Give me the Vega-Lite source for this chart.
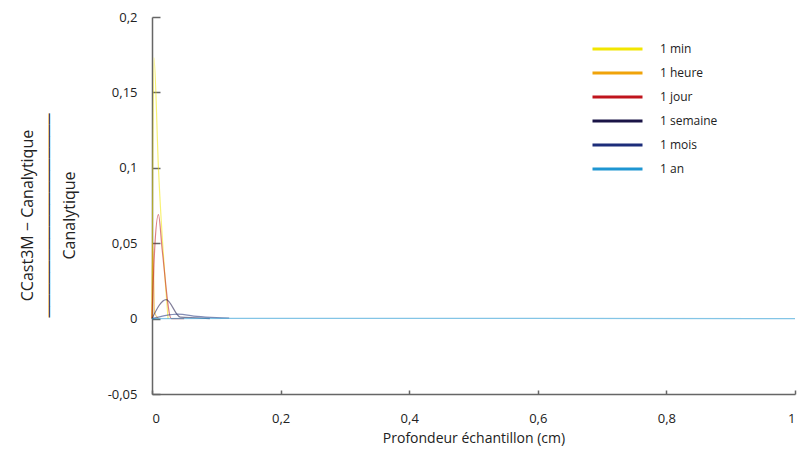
{
  "$schema": "https://vega.github.io/schema/vega-lite/v6.json",
  "width": 643,
  "height": 377,
  "autosize": {"type": "none"},
  "padding": {"left": 152, "top": 17, "right": 7, "bottom": 61},
  "background": "white",
  "config": {
    "view": {"stroke": null},
    "font": "Open Sans",
    "axis": {"grid": false, "domainColor": "#666", "domainWidth": 1.5, "tickColor": "#666", "tickWidth": 1.5, "labelFont": "Open Sans", "labelFontSize": 12, "labelColor": "#222", "titleFont": "Open Sans", "titleFontWeight": "normal", "titleColor": "#222"}
  },
  "data": {"values": [
    {"serie": "1 min", "x": 0, "y": 0},
    {"serie": "1 min", "x": 0.003, "y": 0.173},
    {"serie": "1 min", "x": 0.01, "y": 0.1},
    {"serie": "1 min", "x": 0.025, "y": 0},
    {"serie": "1 heure", "x": 0, "y": 0},
    {"serie": "1 heure", "x": 0.0012, "y": 0.05},
    {"serie": "1 heure", "x": 0.004, "y": 0.004},
    {"serie": "1 heure", "x": 0.01, "y": 0},
    {"serie": "1 jour", "x": 0, "y": 0},
    {"serie": "1 jour", "x": 0.004, "y": 0.045},
    {"serie": "1 jour", "x": 0.01, "y": 0.069},
    {"serie": "1 jour", "x": 0.016, "y": 0.045},
    {"serie": "1 jour", "x": 0.03, "y": 0},
    {"serie": "1 jour", "x": 0.05, "y": 0},
    {"serie": "1 semaine", "x": 0, "y": 0},
    {"serie": "1 semaine", "x": 0.022, "y": 0.0126},
    {"serie": "1 semaine", "x": 0.044, "y": 0.001},
    {"serie": "1 semaine", "x": 0.07, "y": 0.0005},
    {"serie": "1 semaine", "x": 0.09, "y": 0},
    {"serie": "1 mois", "x": 0, "y": 0},
    {"serie": "1 mois", "x": 0.02, "y": 0.002},
    {"serie": "1 mois", "x": 0.04, "y": 0.003},
    {"serie": "1 mois", "x": 0.07, "y": 0.0015},
    {"serie": "1 mois", "x": 0.1, "y": 0.0007},
    {"serie": "1 mois", "x": 0.12, "y": 0.0004},
    {"serie": "1 an", "x": 0, "y": 0},
    {"serie": "1 an", "x": 0.12, "y": 0.0002},
    {"serie": "1 an", "x": 1, "y": 0}
  ]},
  "mark": {"type": "line", "strokeWidth": 1.2, "opacity": 0.55, "interpolate": "monotone"},
  "encoding": {
    "x": {
      "field": "x", "type": "quantitative",
      "scale": {"domain": [0, 1], "nice": false},
      "axis": {"values": [0, 0.2, 0.4, 0.6, 0.8, 1], "labelExpr": "replace(format(datum.value, '~g'), '.', ',')", "tickSize": -4, "labelPadding": 22, "labelFontSize": 13, "title": "Profondeur échantillon (cm)", "titleFontSize": 14, "titlePadding": 6}
    },
    "y": {
      "field": "y", "type": "quantitative",
      "scale": {"domain": [-0.05, 0.2], "nice": false},
      "axis": {"values": [-0.05, 0, 0.05, 0.1, 0.15, 0.2], "labelExpr": "replace(replace(format(datum.value, '~g'), '.', ','), '−', '-')", "tickSize": -8, "labelPadding": 23, "labelFontSize": 13,
        "title": ["CCast3M − Canalytique", "──────────────────", "Canalytique"], "titleFontSize": 16, "titleLineHeight": 21, "titlePadding": 30, "titleY": 198}
    },
    "color": {
      "field": "serie", "type": "nominal",
      "scale": {"domain": ["1 min", "1 heure", "1 jour", "1 semaine", "1 mois", "1 an"], "range": ["#f2e600", "#f0a30a", "#c0141c", "#1a1446", "#1c2d7a", "#1e96d2"]},
      "legend": {"title": null, "orient": "none", "legendX": 439, "legendY": 20, "symbolType": "stroke", "symbolSize": 2500, "symbolStrokeWidth": 3, "symbolOpacity": 1, "labelFontSize": 12, "labelColor": "#222", "labelOffset": 16, "rowPadding": 0, "clipHeight": 24}
    }
  }
}
